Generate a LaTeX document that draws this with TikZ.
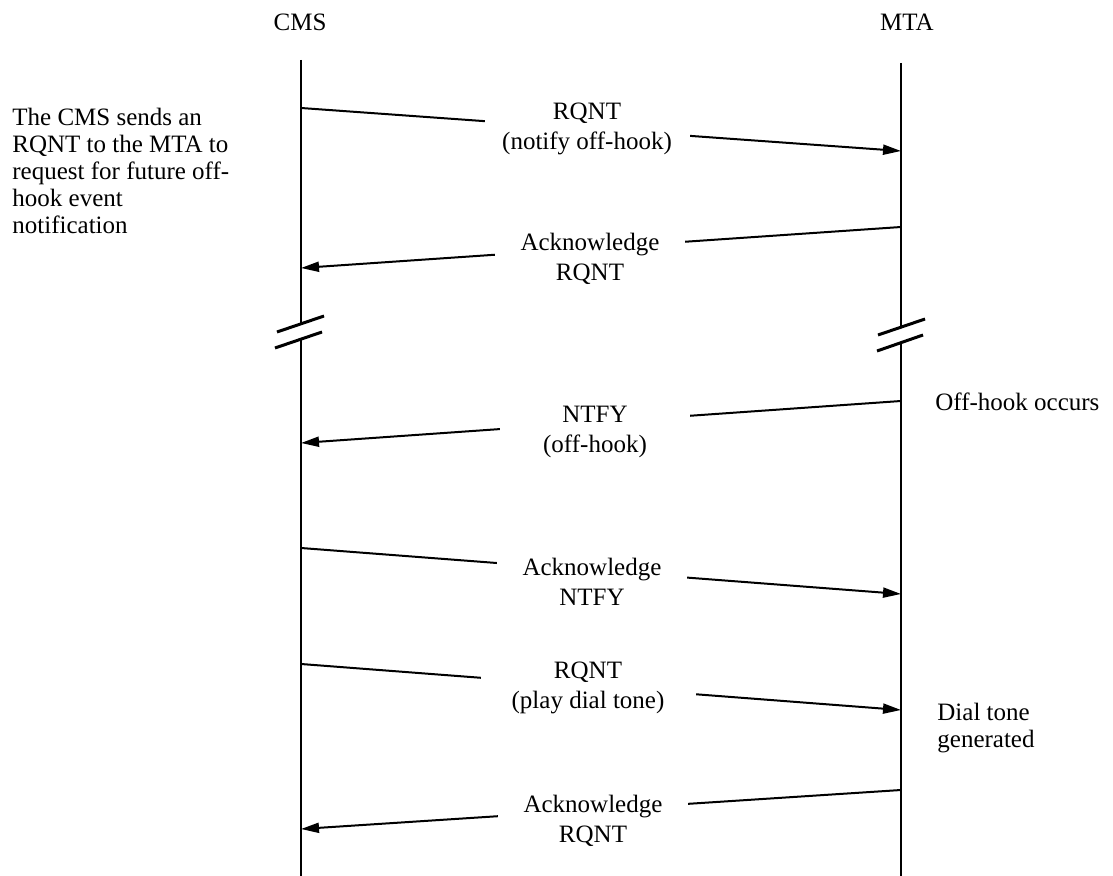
\documentclass[tikz,border=0pt]{standalone}
\usepackage{fontspec}
\setmainfont{Liberation Serif}
\usetikzlibrary{arrows.meta}
\begin{document}
\begin{tikzpicture}[x=0.5pt,y=-0.5pt,
  every node/.style={font=\fontsize{12.5pt}{15pt}\selectfont},
  life/.style={line width=1.1pt},
  msg/.style={line width=1pt,-{Triangle[length=9pt,width=5pt]}},
  lbl/.style={fill=white,align=center,inner sep=0pt,minimum width=95pt},
  brk/.style={line width=1.5pt},
  note/.style={align=left,inner sep=0pt,font=\fontsize{12.5pt}{13.5pt}\selectfont}]
\useasboundingbox (0,0) rectangle (1113,876);

% entity headings
\node (cms) at (300,22) {CMS};
\node (mta) at (907,22) {MTA};

% lifelines, each interrupted by a break
\coordinate (cA) at (301,60);  \coordinate (cB) at (301,324);
\coordinate (cC) at (301,340); \coordinate (cD) at (301,876);
\coordinate (mA) at (901,63);  \coordinate (mB) at (901,327);
\coordinate (mC) at (901,342); \coordinate (mD) at (901,876);
\draw[life] (cA) -- (cB) (cC) -- (cD);
\draw[life] (mA) -- (mB) (mC) -- (mD);

% break marks
\draw[brk] (277,332) -- (324,316) (275,348) -- (322,332);
\draw[brk] (878,335) -- (925,319) (877,351) -- (923,335);

% message end points
\coordinate (c1) at (301,108); \coordinate (m1) at (901,151);
\coordinate (m2) at (901,227); \coordinate (c2) at (301,268);
\coordinate (m3) at (901,401); \coordinate (c3) at (301,443);
\coordinate (c4) at (301,548); \coordinate (m4) at (901,594);
\coordinate (c5) at (301,664); \coordinate (m5) at (901,710);
\coordinate (m6) at (901,790); \coordinate (c6) at (301,829);

% messages
\draw[msg] (c1) -- (m1);
\draw[msg] (m2) -- (c2);
\draw[msg] (m3) -- (c3);
\draw[msg] (c4) -- (m4);
\draw[msg] (c5) -- (m5);
\draw[msg] (m6) -- (c6);

% message labels
\node[lbl,minimum width=102.5pt] (l1) at (587,129) {RQNT\\(notify off-hook)};
\node[lbl] (l2) at (590,259) {Acknowledge\\RQNT};
\node[lbl] (l3) at (595,432) {NTFY\\(off-hook)};
\node[lbl] (l4) at (592,582) {Acknowledge\\NTFY};
\node[lbl,minimum width=107.5pt] (l5) at (588,688) {RQNT\\(play dial tone)};
\node[lbl] (l6) at (593,821) {Acknowledge\\RQNT};

% side notes
\node[note,anchor=north west] (n1) at (12,108)
  {The CMS sends an\\RQNT to the MTA to\\request for future off-\\hook event\\notification};
\node[note,anchor=west] (n2) at (935,402) {Off-hook occurs};
\node[note,anchor=north west] (n3) at (937,703) {Dial tone\\generated};
\end{tikzpicture}
\end{document}
